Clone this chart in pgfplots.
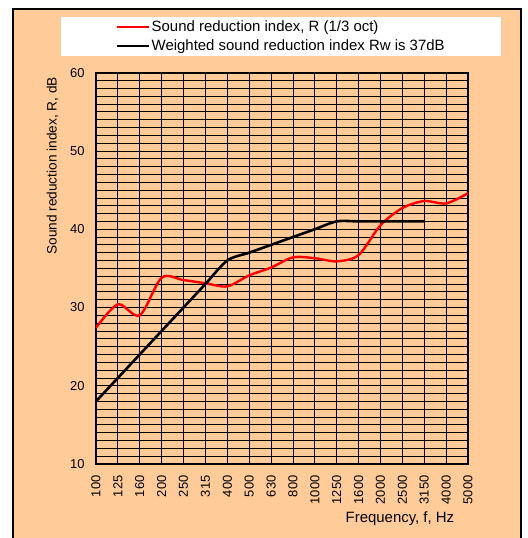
\documentclass[border=0pt]{standalone}
\usepackage{fontspec}
\setmainfont{Liberation Sans}
\usepackage{pgfplots}
\pgfplotsset{compat=1.18}
\definecolor{peach}{HTML}{FFCC99}

\begin{document}
\begin{tikzpicture}[font=\fontsize{12.5}{15}\selectfont]
\path[use as bounding box] (-96bp,-74bp) rectangle (432bp,464bp);
% chart area with its frame (bottom edge lies outside the picture)
\fill[peach] (-83bp,-80bp) rectangle (425bp,455bp);
\draw[line width=2.4bp] (-83bp,-80bp) -- (-83bp,455bp) -- (425bp,455bp) -- (425bp,-80bp);
\begin{axis}[
  at={(0,0)}, anchor=south west,
  scale only axis, width=372bp, height=391.3bp,
  xmin=0, xmax=17, ymin=10, ymax=60,
  xtick={0,...,17},
  xticklabels={100,125,160,200,250,315,400,500,630,800,1000,1250,1600,2000,2500,3150,4000,5000},
  ytick={10,20,...,60},
  minor y tick num=9,
  grid=both,
  major grid style={black, line width=0.8bp},
  minor grid style={black, line width=0.8bp},
  axis line style={line width=1.6bp},
  tick style={black, line width=0.8bp},
  major tick length=4bp, minor tick length=0bp,
  /pgf/number format/assume math mode=true,
  tick label style={font=\fontsize{13}{15}\selectfont},
  xticklabel style={yshift=-8bp, rotate=90, anchor=east},
  yticklabel style={xshift=-8bp},
  xlabel={Frequency, f, Hz},
  xlabel style={at={(axis description cs:0.817,-0.1406)}, anchor=center,
    font=\fontsize{15}{18}\selectfont},
  ylabel={Sound reduction index, R, dB},
  ylabel style={at={(axis description cs:-0.117,0.762)}, anchor=center,
    font=\fontsize{13.7}{16}\selectfont},
  legend style={at={(axis description cs:0.497,1.0925)}, anchor=center,
    draw=none, fill=white, inner xsep=55bp, inner ysep=2.5bp,
    font=\fontsize{15}{18}\selectfont,
    nodes={inner sep=1.5bp}, row sep=4bp},
  legend cell align=left,
  legend image code/.code={\draw[#1] (0bp,0bp) -- (32bp,0bp);},
]
\addplot[red, line width=2.4bp, smooth] coordinates {
  (0,27.4) (1,30.4) (2,29.0) (3,33.8) (4,33.5) (5,33.1) (6,32.7) (7,34.1) (8,35.1)
  (9,36.4) (10,36.3) (11,35.9) (12,36.7) (13,40.5) (14,42.7) (15,43.6) (16,43.3) (17,44.6)
};
\addlegendentry{Sound reduction index, R (1/3 oct)}
\addplot[black, line width=2.6bp, smooth] coordinates {
  (0,18) (1,21) (2,24) (3,27) (4,30) (5,33) (6,36) (7,37) (8,38)
  (9,39) (10,40) (11,41) (12,41) (13,41) (14,41) (15,41)
};
\addlegendentry{Weighted sound reduction index Rw is 37dB}
\end{axis}
\end{tikzpicture}
\end{document}
